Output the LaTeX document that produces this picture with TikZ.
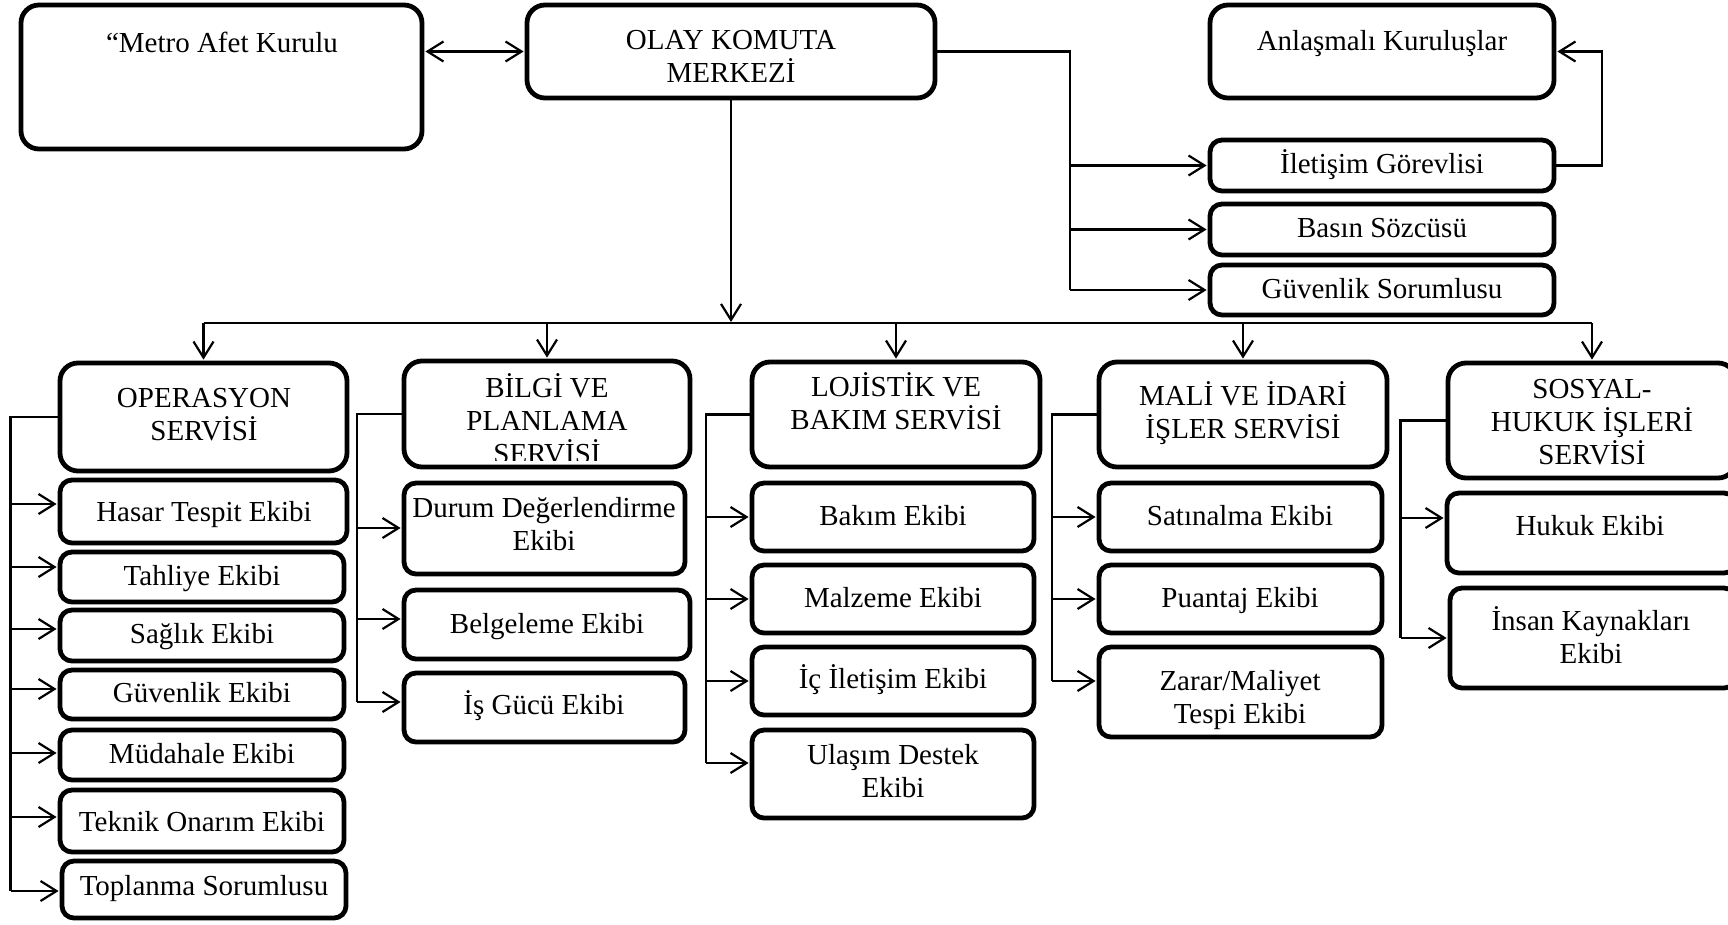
\documentclass[tikz,border=0pt]{standalone}
\usepackage{fontspec}
\setmainfont{Liberation Serif}
\usetikzlibrary{arrows.meta,fit}
\newcommand\diagfont{\fontsize{29}{33}\selectfont}
\tikzset{
  box/.style={draw, line width=4.8pt, rounded corners=12pt, inner sep=0pt},
  bigbox/.style={box, rounded corners=18pt},
  lbl/.style={font=\diagfont, anchor=base, align=center, inner sep=0pt},
  conn/.style={line width=2.2pt},
  spine/.style={line width=2.8pt},
  arr/.style={conn, -{Straight Barb[length=16pt,width=20pt]}, shorten >=1pt},
  dblarr/.style={conn, {Straight Barb[length=16pt,width=20pt]}-{Straight Barb[length=16pt,width=20pt]}, shorten >=1pt, shorten <=1pt},
}
% box helper: name, x1, y1, x2, y2, style
\newcommand\bx[6][box]{\node[#1, fit={(#3,#4)(#5,#6)}] (#2) {};}
\begin{document}
\begin{tikzpicture}[x=1pt, y=-1pt]
\useasboundingbox (0,0) rectangle (1728,924);
\clip (0,0) rectangle (1728,924);

% ---------- top row ----------
\bx[bigbox]{metro}{21}{5}{422}{149}
\bx[bigbox]{olay}{527}{5}{935}{98}
\bx[bigbox]{anl}{1210}{5}{1554}{98}
\bx{ilet}{1210}{140}{1554}{191}
\bx{basin}{1210}{204}{1554}{255}
\bx{guvs}{1210}{265}{1554}{315}

% multi-line labels are anchored on the baseline of their last line
\node[lbl] (metro-t) at (222,52) {“Metro Afet Kurulu};
\node[lbl] (olay-t) at (731,82) {OLAY KOMUTA\\MERKEZİ};
\node[lbl] (anl-t) at (1382,50) {Anlaşmalı Kuruluşlar};
\node[lbl] (ilet-t) at (1382,173) {İletişim Görevlisi};
\node[lbl] (basin-t) at (1382,237) {Basın Sözcüsü};
\node[lbl] (guvs-t) at (1382,298) {Güvenlik Sorumlusu};

% ---------- services ----------
\bx[bigbox]{ops}{60}{363}{347}{471}
\bx[bigbox]{bil}{404}{361}{690}{467}
\bx[bigbox]{loj}{752}{362}{1040}{467}
\bx[bigbox]{mal}{1099}{362}{1387}{467}
\bx[bigbox]{sos}{1448}{363}{1736}{478}

\node[lbl] (ops-t) at (204,440) {OPERASYON\\SERVİSİ};
\begin{scope}
  \clip (404,361) rectangle (690,460);
  \node[lbl] (bil-t) at (547,463) {BİLGİ VE\\PLANLAMA\\SERVİSİ};
\end{scope}
\node[lbl] (loj-t) at (896,429) {LOJİSTİK VE\\BAKIM SERVİSİ};
\node[lbl] (mal-t) at (1243,438) {MALİ VE İDARİ\\İŞLER SERVİSİ};
\node[lbl] (sos-t) at (1592,464) {SOSYAL-\\HUKUK İŞLERİ\\SERVİSİ};

% ---------- teams ----------
\bx{hasar}{60}{480}{347}{543}
\bx{tahl}{60}{552}{344}{602}
\bx{sag}{60}{610}{344}{661}
\bx{guve}{60}{670}{344}{719}
\bx{mud}{60}{730}{344}{780}
\bx{tek}{60}{790}{344}{852}
\bx{topl}{62}{861}{346}{918}

\bx{durum}{404}{483}{685}{574}
\bx{belg}{404}{590}{690}{659}
\bx{isg}{404}{673}{685}{742}

\bx{bakim}{752}{483}{1034}{551}
\bx{malz}{752}{565}{1034}{633}
\bx{ic}{752}{647}{1034}{715}
\bx{ulas}{752}{730}{1034}{818}

\bx{satin}{1099}{483}{1382}{551}
\bx{puan}{1099}{565}{1382}{633}
\bx{zarar}{1099}{647}{1382}{737}

\bx{hukuk}{1447}{493}{1736}{573}
\bx{insan}{1450}{588}{1736}{688}

\node[lbl] (hasar-t) at (204,521) {Hasar Tespit Ekibi};
\node[lbl] (tahl-t) at (202,585) {Tahliye Ekibi};
\node[lbl] (sag-t) at (202,643) {Sağlık Ekibi};
\node[lbl] (guve-t) at (202,702) {Güvenlik Ekibi};
\node[lbl] (mud-t) at (202,763) {Müdahale Ekibi};
\node[lbl] (tek-t) at (202,831) {Teknik Onarım Ekibi};
\node[lbl] (topl-t) at (204,895) {Toplanma Sorumlusu};

\node[lbl] (durum-t) at (544,550) {Durum Değerlendirme\\Ekibi};
\node[lbl] (belg-t) at (547,633) {Belgeleme Ekibi};
\node[lbl] (isg-t) at (544,714) {İş Gücü Ekibi};

\node[lbl] (bakim-t) at (893,525) {Bakım Ekibi};
\node[lbl] (malz-t) at (893,607) {Malzeme Ekibi};
\node[lbl] (ic-t) at (893,688) {İç İletişim Ekibi};
\node[lbl] (ulas-t) at (893,797) {Ulaşım Destek\\Ekibi};

\node[lbl] (satin-t) at (1240,525) {Satınalma Ekibi};
\node[lbl] (puan-t) at (1240,607) {Puantaj Ekibi};
\node[lbl] (zarar-t) at (1240,723) {Zarar/Maliyet\\Tespi Ekibi};

\node[lbl] (hukuk-t) at (1590,535) {Hukuk Ekibi};
\node[lbl] (insan-t) at (1591,663) {İnsan Kaynakları\\Ekibi};

% ---------- connectors: top ----------
\draw[dblarr] (metro.east |- olay.west) -- (olay.west);

\coordinate (rj) at (1070,0);
\draw[conn] (olay.east) -| (rj |- guvs.west);
\foreach \n in {ilet,basin,guvs}
  \draw[arr] (rj |- \n.west) -- (\n.west);

\coordinate (aj) at (1602,0);
\draw[arr] (ilet.east) -| (aj |- anl.east) -- (anl.east);

% ---------- connectors: distribution bus ----------
\coordinate (bus) at (0,323);
\draw[arr] (olay.south) -- (olay.south |- bus);
\draw[spine] (ops.north |- bus) -- (sos.north |- bus);
\foreach \s in {ops,bil,loj,mal,sos}
  \draw[arr] (\s.north |- bus) -- (\s.north);

% ---------- connectors: services to teams ----------
\draw[spine] (ops.west) -- ++(-47,0) coordinate (opsS) -- (opsS |- 0,891);
\foreach \y/\n in {504/hasar,567/tahl,629/sag,689/guve,753/mud,817/tek,891/topl}
  \draw[arr] (opsS |- 0,\y) -- (\n.west |- 0,\y);

\draw[conn] (bil.west) -- ++(-45,0) coordinate (bilS) -- (bilS |- 0,702);
\foreach \y/\n in {528/durum,619/belg,702/isg}
  \draw[arr] (bilS |- 0,\y) -- (\n.west |- 0,\y);

\draw[conn] (loj.west) -- ++(-44,0) coordinate (lojS) -- (lojS |- 0,763);
\foreach \y/\n in {517/bakim,599/malz,681/ic,763/ulas}
  \draw[arr] (lojS |- 0,\y) -- (\n.west |- 0,\y);

\draw[conn] (mal.west) -- ++(-45,0) coordinate (malS) -- (malS |- 0,681);
\foreach \y/\n in {517/satin,599/puan,681/zarar}
  \draw[arr] (malS |- 0,\y) -- (\n.west |- 0,\y);

\draw[spine] (sos.west) -- ++(-45,0) coordinate (sosS) -- (sosS |- 0,638);
\foreach \y/\n in {518/hukuk,638/insan}
  \draw[arr] (sosS |- 0,\y) -- (\n.west |- 0,\y);

\end{tikzpicture}
\end{document}
